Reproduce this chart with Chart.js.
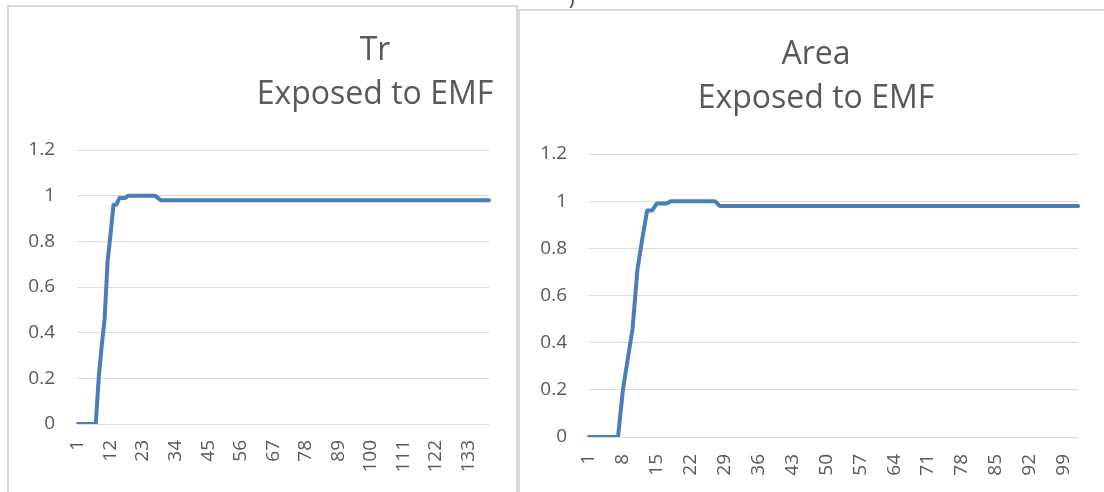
<!DOCTYPE html>
<html>
<head>
<meta charset="utf-8">
<script src="https://cdn.jsdelivr.net/npm/chart.js@4.4.1/dist/chart.umd.min.js"></script>
<style>
  html, body { margin: 0; padding: 0; background: #fff; width: 1104px; height: 492px; overflow: hidden; position: relative; font-family: "Open Sans", sans-serif; }
  .frame { position: absolute; border: 2px solid #d9d9d9; background: #fff; box-sizing: border-box; }
  .title { position: absolute; text-align: center; color: #595959; font-size: 32px; line-height: 44px; white-space: nowrap; transform: translateX(-50%); z-index: 2; }
  .stray { position: absolute; left: 569px; top: -14px; font-size: 18px; color: #333; }
  canvas { position: absolute; z-index: 1; }
</style>
</head>
<body>
<div class="stray">)</div>
<div class="frame" style="left:7px; top:5px; width:511px; height:500px;"></div>
<div class="frame" style="left:518px; top:9px; width:600px; height:500px;"></div>
<canvas id="trChart" style="left:9px; top:7px;" width="506" height="485"></canvas>
<canvas id="areaChart" style="left:520px; top:11px;" width="584" height="481"></canvas>
<div class="title" style="left:375px; top:26px;">Tr<br>Exposed to EMF</div>
<div class="title" style="left:816px; top:30px;">Area<br>Exposed to EMF</div>

<script>
// Tr exposed to EMF, one value per step (140 steps)
const trValues = [
  0, 0, 0, 0, 0, 0, 0, 0.2, 0.34, 0.46,
  0.71, 0.83, 0.96, 0.96, 0.99, 0.99, 0.99, 1, 1, 1,
  1, 1, 1, 1, 1, 1, 1, 0.99, 0.98, 0.98,
  0.98, 0.98, 0.98, 0.98, 0.98, 0.98, 0.98, 0.98, 0.98, 0.98,
  0.98, 0.98, 0.98, 0.98, 0.98, 0.98, 0.98, 0.98, 0.98, 0.98,
  0.98, 0.98, 0.98, 0.98, 0.98, 0.98, 0.98, 0.98, 0.98, 0.98,
  0.98, 0.98, 0.98, 0.98, 0.98, 0.98, 0.98, 0.98, 0.98, 0.98,
  0.98, 0.98, 0.98, 0.98, 0.98, 0.98, 0.98, 0.98, 0.98, 0.98,
  0.98, 0.98, 0.98, 0.98, 0.98, 0.98, 0.98, 0.98, 0.98, 0.98,
  0.98, 0.98, 0.98, 0.98, 0.98, 0.98, 0.98, 0.98, 0.98, 0.98,
  0.98, 0.98, 0.98, 0.98, 0.98, 0.98, 0.98, 0.98, 0.98, 0.98,
  0.98, 0.98, 0.98, 0.98, 0.98, 0.98, 0.98, 0.98, 0.98, 0.98,
  0.98, 0.98, 0.98, 0.98, 0.98, 0.98, 0.98, 0.98, 0.98, 0.98,
  0.98, 0.98, 0.98, 0.98, 0.98, 0.98, 0.98, 0.98, 0.98, 0.98
];

// Area exposed to EMF, one value per step (102 steps)
const areaValues = [
  0, 0, 0, 0, 0, 0, 0, 0.2, 0.33, 0.46,
  0.71, 0.84, 0.96, 0.96, 0.99, 0.99, 0.99, 1, 1, 1,
  1, 1, 1, 1, 1, 1, 1, 0.98, 0.98, 0.98,
  0.98, 0.98, 0.98, 0.98, 0.98, 0.98, 0.98, 0.98, 0.98, 0.98,
  0.98, 0.98, 0.98, 0.98, 0.98, 0.98, 0.98, 0.98, 0.98, 0.98,
  0.98, 0.98, 0.98, 0.98, 0.98, 0.98, 0.98, 0.98, 0.98, 0.98,
  0.98, 0.98, 0.98, 0.98, 0.98, 0.98, 0.98, 0.98, 0.98, 0.98,
  0.98, 0.98, 0.98, 0.98, 0.98, 0.98, 0.98, 0.98, 0.98, 0.98,
  0.98, 0.98, 0.98, 0.98, 0.98, 0.98, 0.98, 0.98, 0.98, 0.98,
  0.98, 0.98, 0.98, 0.98, 0.98, 0.98, 0.98, 0.98, 0.98, 0.98,
  0.98, 0.98
];

// Step numbers along the horizontal axis
const trCategories = trValues.map((_, i) => String(i + 1));
const areaCategories = areaValues.map((_, i) => String(i + 1));

// Every n-th step gets a visible label (1, 12, 23 ... and 1, 8, 15 ...)
const trLabelEvery = 11;
const areaLabelEvery = 7;

// Value axis ticks shared by both panels
const yTickValues = [0, 0.2, 0.4, 0.6, 0.8, 1, 1.2];

const TEXT = '#595959';
const GRID = '#d9d9d9';
const LINE = '#4a7ebb';
const FAMILY = '"Open Sans", sans-serif';
const TICK_SIZE = 19;

Chart.defaults.font.family = FAMILY;
Chart.defaults.font.size = TICK_SIZE;
Chart.defaults.color = TEXT;

function buildChart(canvasId, categories, values, labelEvery, opts) {
  return new Chart(document.getElementById(canvasId), {
    type: 'line',
    data: {
      labels: categories,
      datasets: [{
        data: values,
        borderColor: LINE,
        borderWidth: 4,
        pointRadius: 0,
        pointHoverRadius: 0,
        tension: 0,
        fill: false,
        borderJoinStyle: 'round',
        borderCapStyle: 'round'
      }]
    },
    options: {
      responsive: false,
      animation: false,
      devicePixelRatio: 1,
      layout: { padding: { top: opts.padTop, right: opts.padRight, bottom: 0, left: 0 } },
      plugins: { legend: { display: false }, tooltip: { enabled: false }, title: { display: false } },
      scales: {
        x: {
          type: 'category',
          offset: false,
          grid: { display: false, drawTicks: false },
          border: { display: false },
          ticks: {
            autoSkip: false,
            minRotation: 90,
            maxRotation: 90,
            padding: opts.xPad,
            color: TEXT,
            font: { family: FAMILY, size: TICK_SIZE },
            callback: (v, i) => (i % labelEvery === 0 ? categories[i] : null)
          },
          afterFit: (s) => { s.height = opts.xHeight; }
        },
        y: {
          min: 0,
          max: 1.2,
          grid: { color: GRID, lineWidth: 1, drawTicks: false },
          border: { display: false },
          afterBuildTicks: (s) => { s.ticks = yTickValues.map((value) => ({ value })); },
          ticks: {
            padding: opts.yPad,
            color: TEXT,
            font: { family: FAMILY, size: TICK_SIZE },
            callback: (v) => String(+v.toFixed(1))
          },
          afterFit: (s) => { s.width = opts.yWidth; }
        }
      }
    }
  });
}

buildChart('trChart', trCategories, trValues, trLabelEvery,
  { padTop: 143, padRight: 26, xHeight: 68, xPad: 16, yWidth: 69, yPad: 23 });
buildChart('areaChart', areaCategories, areaValues, areaLabelEvery,
  { padTop: 143, padRight: 20, xHeight: 55, xPad: 17, yWidth: 69, yPad: 22 });
</script>
</body>
</html>
